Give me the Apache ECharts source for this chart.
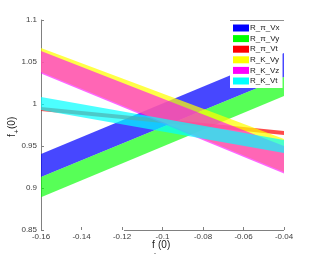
<!DOCTYPE html>
<html>
<head>
<meta charset="utf-8">
<script src="https://cdn.jsdelivr.net/npm/echarts@6/dist/echarts.min.js"></script>
<style>html,body{margin:0;padding:0;background:#fff;}#c{width:314px;height:259px;}</style>
</head>
<body>
<div id="c"></div>
<script>
// x positions of band endpoints
const xVals = [-0.16, -0.04];
// band lower / upper edges (f+(0)) at each x
const piVxLo = [0.913, 1.032];
const piVxHi = [0.9405, 1.0607];
const piVyLo = [0.889, 1.0095];
const piVyHi = [0.913, 1.032];
const piVtLo = [0.9917, 0.963];
const piVtHi = [0.9964, 0.9679];
const kVyLo = [1.038, 0.919];
const kVyHi = [1.0667, 0.9583];
const kVzLo = [1.0363, 0.9173];
const kVzHi = [1.0631, 0.950];
const kVtLo = [0.9929, 0.9417];
const kVtHi = [1.0083, 0.9571];

const names = ['R_\u03c0_Vx', 'R_\u03c0_Vy', 'R_\u03c0_Vt', 'R_K_Vy', 'R_K_Vz', 'R_K_Vt'];
const colors = ['#0000ff', '#00ff00', '#ff0000', '#ffff00', '#ff00ff', '#00ffff'];
const alphas = [0.72, 0.66, 0.7, 0.72, 0.6, 0.7];
const xTickLabels = ['-0.16', '-0.14', '-0.12', '-0.1', '-0.08', '-0.06', '-0.04'];
const yTickLabels = ['0.85', '0.9', '0.95', '1', '1.05', '1.1'];

const bands = [
  [piVxLo, piVxHi], [piVyLo, piVyHi], [piVtLo, piVtHi],
  [kVyLo, kVyHi], [kVzLo, kVzHi], [kVtLo, kVtHi]
];

function makeSeries(k) {
  const lo = bands[k][0], hi = bands[k][1];
  const data = xVals.map((x, i) => [x, lo[i], hi[i]]);
  return {
    type: 'custom',
    name: names[k],
    itemStyle: { color: colors[k] },
    encode: { x: 0, y: [1, 2] },
    data: data,
    renderItem: function (params, api) {
      const i = params.dataIndex;
      if (i >= xVals.length - 1) return null;
      const pts = [
        api.coord([xVals[i], lo[i]]),
        api.coord([xVals[i + 1], lo[i + 1]]),
        api.coord([xVals[i + 1], hi[i + 1]]),
        api.coord([xVals[i], hi[i]])
      ];
      return { type: 'polygon', shape: { points: pts }, style: { fill: colors[k], opacity: alphas[k] } };
    }
  };
}

const chart = echarts.init(document.getElementById('c'), null, { renderer: 'canvas' });
const FONT = 'Liberation Sans, Arial, sans-serif';
chart.setOption({
  animation: false,
  backgroundColor: '#fff',
  grid: { left: 41, right: 30, top: 20, bottom: 29 },
  xAxis: {
    type: 'value', min: -0.16, max: -0.04, interval: 0.02,
    axisLine: { show: false },
    axisTick: { show: true, inside: true, length: 3, lineStyle: { color: '#808080' } },
    splitLine: { show: false },
    axisLabel: {
      fontSize: 8, color: '#404040', fontFamily: FONT, margin: 3,
      formatter: function (v) { return xTickLabels[Math.round((v + 0.16) / 0.02)]; }
    }
  },
  yAxis: {
    type: 'value', min: 0.85, max: 1.1, interval: 0.05,
    axisLine: { show: true, lineStyle: { color: '#808080', width: 1 } },
    axisTick: { show: true, inside: true, length: 3, lineStyle: { color: '#808080' } },
    splitLine: { show: false },
    axisLabel: {
      fontSize: 8, color: '#404040', fontFamily: FONT, margin: 4,
      formatter: function (v) { return yTickLabels[Math.round((v - 0.85) / 0.05)]; }
    }
  },
  legend: {
    orient: 'vertical', left: 230, top: 20,
    itemWidth: 16, itemHeight: 7, itemGap: 2.6,
    padding: [4, 3, 3, 3],
    backgroundColor: '#fff',
    icon: 'rect',
    textStyle: { fontSize: 8, color: '#202020', fontFamily: FONT, padding: [0, 0, 0, -4] },
    data: names
  },
  series: bands.map((b, k) => makeSeries(k)),
  graphic: [
    { type: 'line', shape: { x1: 124, y1: 230.5, x2: 284, y2: 230.5 }, style: { stroke: '#808080', lineWidth: 1 }, z: 100 },
    { type: 'line', shape: { x1: 41, y1: 230.5, x2: 44, y2: 230.5 }, style: { stroke: '#808080', lineWidth: 1 }, z: 100 },
    { type: 'line', shape: { x1: 230, y1: 20.5, x2: 284, y2: 20.5 }, style: { stroke: '#909090', lineWidth: 1 }, z: 100 },
    { type: 'text', x: 152, y: 240, style: { text: 'f', font: '10px ' + FONT, fill: '#202020' }, z: 100 },
    { type: 'text', x: 154, y: 250, style: { text: '-', font: '6px ' + FONT, fill: '#202020' }, z: 100 },
    { type: 'text', x: 158, y: 240, style: { text: '(0)', font: '10px ' + FONT, fill: '#202020' }, z: 100 },
    {
      type: 'group', x: 13, y: 127, rotation: Math.PI / 2, z: 100,
      children: [
        { type: 'text', x: -10, y: -6, style: { text: 'f', font: '10px ' + FONT, fill: '#202020' } },
        { type: 'text', x: -6.5, y: 1, style: { text: '+', font: '7px ' + FONT, fill: '#202020' } },
        { type: 'text', x: -2, y: -6, style: { text: '(0)', font: '10px ' + FONT, fill: '#202020' } }
      ]
    }
  ]
});
</script>
</body>
</html>
